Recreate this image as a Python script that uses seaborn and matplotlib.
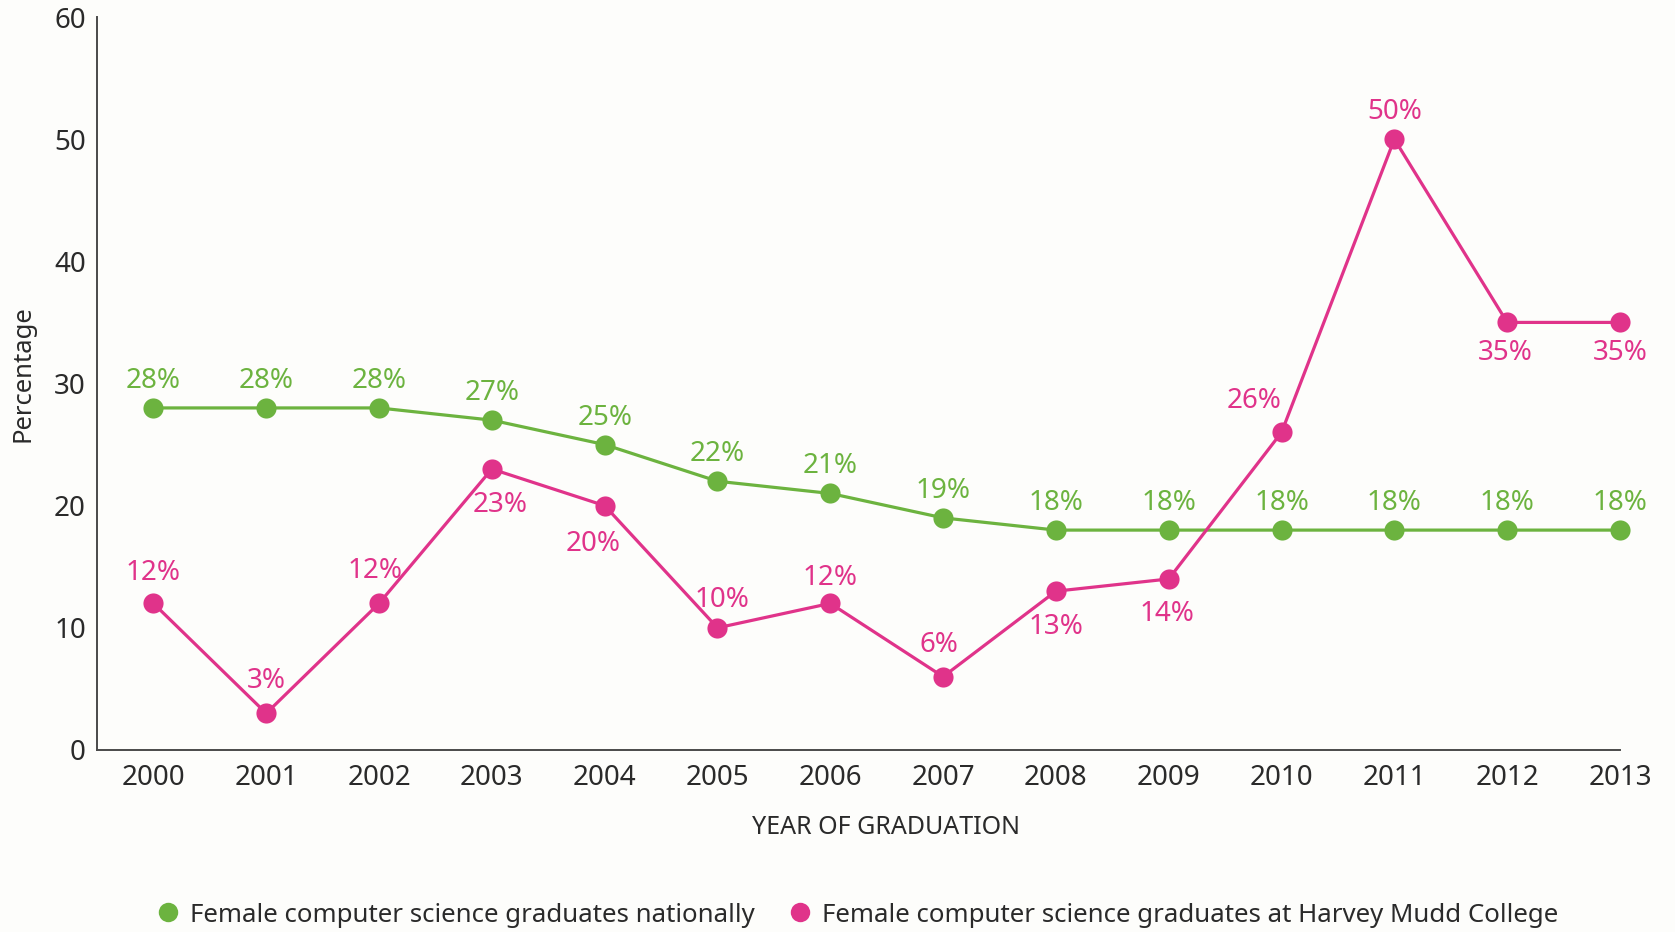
import matplotlib
matplotlib.use("Agg")
import matplotlib.pyplot as plt
from matplotlib.lines import Line2D
import pandas as pd
import seaborn as sns

# Data
years = [2000, 2001, 2002, 2003, 2004, 2005, 2006, 2007, 2008, 2009, 2010, 2011, 2012, 2013]
national = [28, 28, 28, 27, 25, 22, 21, 19, 18, 18, 18, 18, 18, 18]
harvey_mudd = [12, 3, 12, 23, 20, 10, 12, 6, 13, 14, 26, 50, 35, 35]
series_names = ["Female computer science graduates nationally",
                "Female computer science graduates at Harvey Mudd College"]
y_ticks = [0, 10, 20, 30, 40, 50, 60]

GREEN = "#6cb33f"
PINK = "#e0338a"
INK = "#2a2a2a"
AXIS = "#4a4a4a"
BG = "#fdfdfb"

sns.set_theme(style="white")
plt.rcParams["font.family"] = ["Noto Sans", "DejaVu Sans"]

df = pd.DataFrame({
    "year": years * 2,
    "pct": national + harvey_mudd,
    "series": [series_names[0]] * len(years) + [series_names[1]] * len(years),
})

fig = plt.figure(figsize=(16.75, 9.32), dpi=100, facecolor=BG)
ax = fig.add_axes([97 / 1675, 1 - 750 / 932, (1620 - 97) / 1675, (750 - 17) / 932])
ax.set_facecolor(BG)

sns.lineplot(data=df, x="year", y="pct", hue="series",
             palette={series_names[0]: GREEN, series_names[1]: PINK},
             marker="o", markersize=14.5, markeredgewidth=0, linewidth=2.3,
             legend=False, ax=ax)
for ln in ax.lines:
    ln.set_clip_on(False)

ax.set_xlim(1999.5, 2013)
ax.set_ylim(0, 60)
ax.set_xticks(years)
ax.set_yticks(y_ticks)
ax.set_xlabel("")
ax.set_ylabel("")

for side in ["top", "right"]:
    ax.spines[side].set_visible(False)
for side in ["left", "bottom"]:
    ax.spines[side].set_color(AXIS)
    ax.spines[side].set_linewidth(1.4)

ax.tick_params(axis="both", direction="in", length=8, width=1.4, color=AXIS,
               labelsize=20, labelcolor=INK)
ax.tick_params(axis="x", pad=10)
ax.tick_params(axis="y", pad=8)

# Value labels
label_kw = dict(textcoords="offset pixels", ha="center", va="center", fontsize=20)
for x, v in zip(years, national):
    ax.annotate(f"{v}%", (x, v), xytext=(0, 27), color=GREEN, **label_kw)

pink_offsets = [(0, 30), (0, 32), (-4, 32), (8, -36), (-12, -38), (5, 28), (0, 25),
                (-4, 32), (0, -36), (-2, -35), (-27, 31), (0, 27), (-2, -31), (0, -31)]
for x, v, (dx, dy) in zip(years, harvey_mudd, pink_offsets):
    ax.annotate(f"{v}%", (x, v), xytext=(dx, dy), color=PINK, **label_kw)

fig.text(23 / 1675, 1 - 374 / 932, "Percentage", rotation=90, ha="center", va="center",
         fontsize=18.5, color=INK)
fig.text(886 / 1675, 1 - 827 / 932, "YEAR OF GRADUATION", ha="center", va="center",
         fontsize=18, color=INK)

handles = [Line2D([], [], linestyle="none", marker="o", markersize=14,
                  markerfacecolor=c, markeredgewidth=0) for c in (GREEN, PINK)]
fig.legend(handles, series_names, loc="center", bbox_to_anchor=(0.512, 1 - 915 / 932),
           ncol=2, frameon=False, fontsize=18.6, labelcolor=INK,
           handlelength=0.8, handletextpad=0.45, columnspacing=1.35)

fig.savefig("out.png", dpi=100, facecolor=BG)
